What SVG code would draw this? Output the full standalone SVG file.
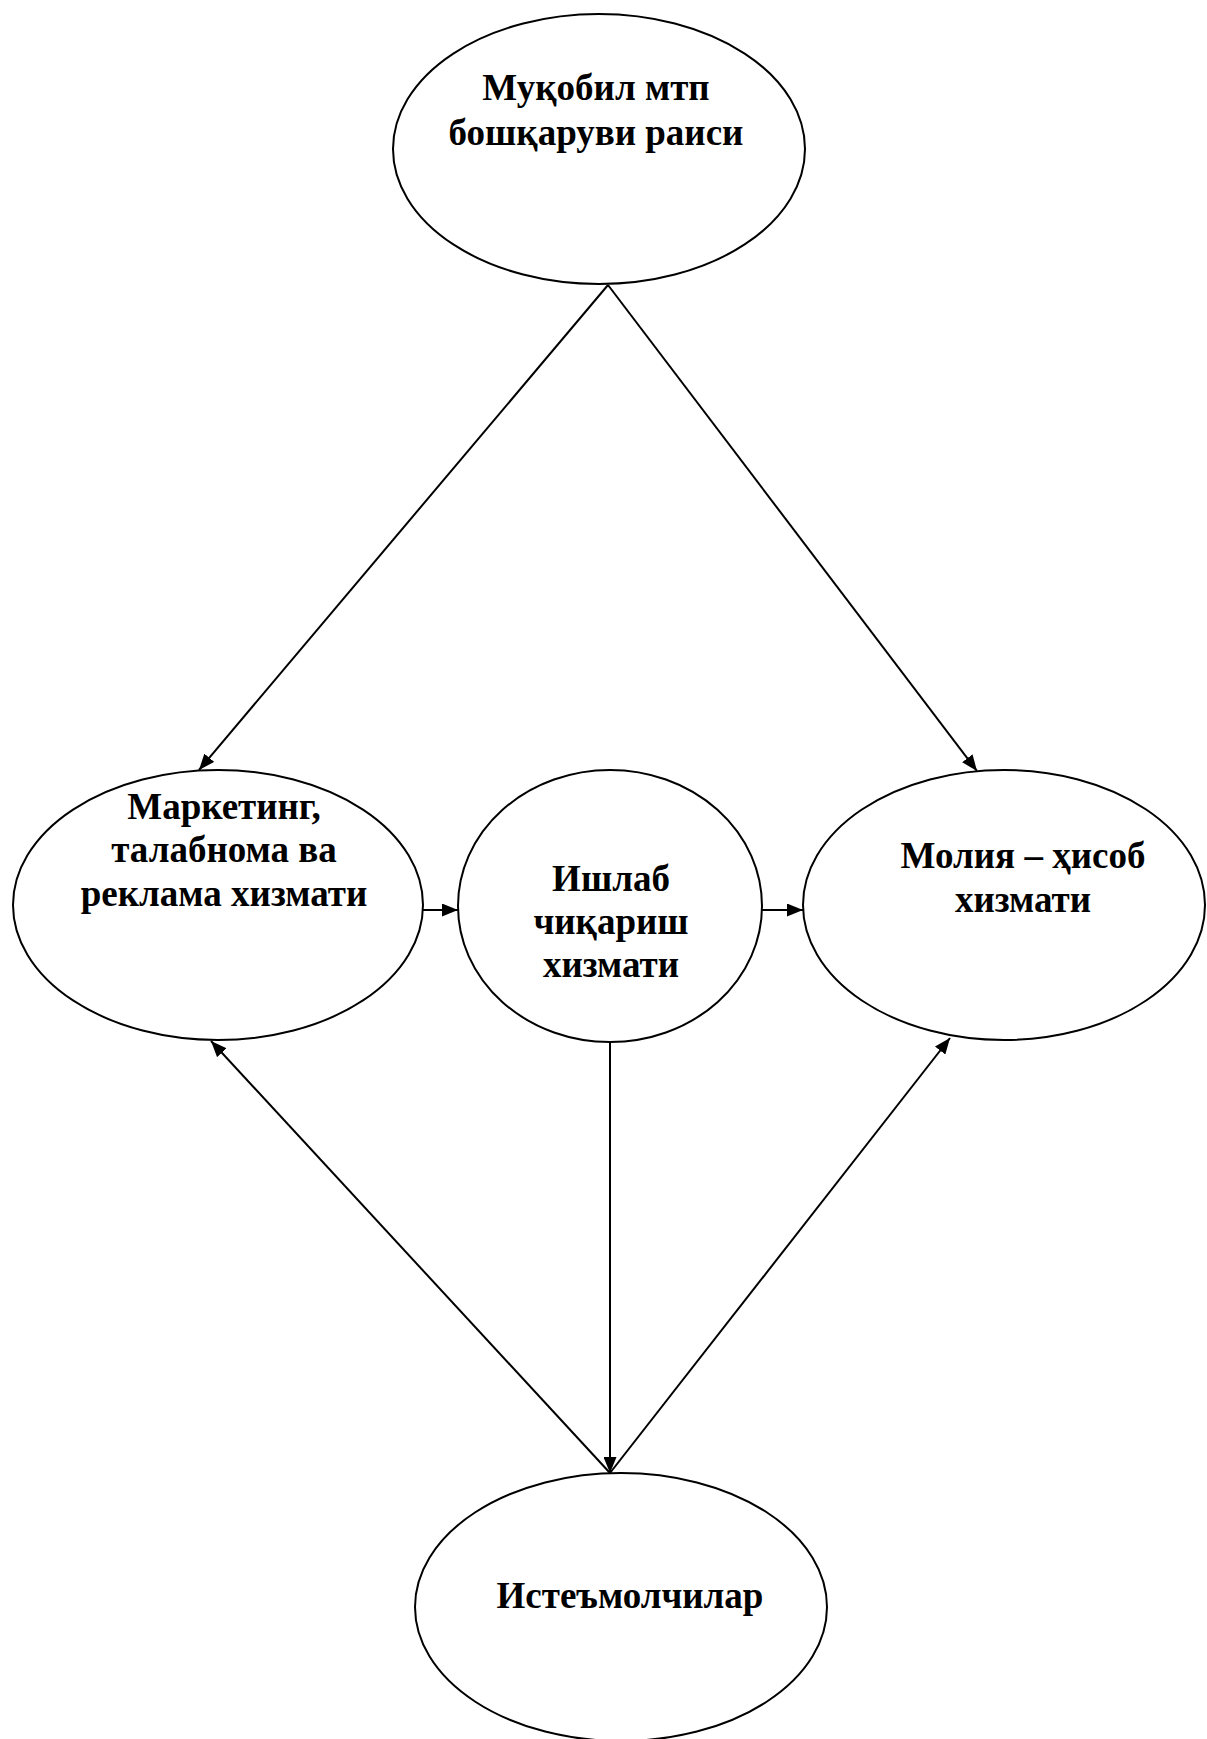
<svg xmlns="http://www.w3.org/2000/svg" width="1207" height="1739" viewBox="0 0 1207 1739">
<style>
.node ellipse{fill:#fff;stroke:#000;stroke-width:2}
.node text{font-family:"Liberation Serif","Times New Roman",serif;font-weight:bold;font-size:37px;fill:#000;text-anchor:middle}
.conn line{stroke:#000;stroke-width:2;fill:none}
</style>
<defs>
<marker id="ah" markerUnits="userSpaceOnUse" markerWidth="16" markerHeight="13" refX="16" refY="6.5" orient="auto">
<path d="M0,0 L16,6.5 L0,13 Z" fill="#000"/>
</marker>
</defs>
<rect width="1207" height="1739" fill="#fff"/>
<g id="n-top" class="node">
<ellipse cx="599" cy="149" rx="206" ry="135"/>
<text x="596" y="100">Муқобил мтп</text>
<text x="596" y="145">бошқаруви раиси</text>
</g>
<g id="n-marketing" class="node">
<ellipse cx="218" cy="905" rx="205" ry="135"/>
<text x="224" y="819">Маркетинг,</text>
<text x="224" y="862">талабнома ва</text>
<text x="224" y="906">реклама хизмати</text>
</g>
<g id="n-production" class="node">
<ellipse cx="610" cy="906" rx="152" ry="136"/>
<text x="611" y="891">Ишлаб</text>
<text x="611" y="934">чиқариш</text>
<text x="611" y="977">хизмати</text>
</g>
<g id="n-finance" class="node">
<ellipse cx="1004" cy="905" rx="201" ry="135"/>
<text x="1023" y="868">Молия – ҳисоб</text>
<text x="1023" y="912">хизмати</text>
</g>
<g id="n-consumers" class="node">
<ellipse cx="621" cy="1607" rx="206" ry="134"/>
<text x="630" y="1608">Истеъмолчилар</text>
</g>
<g id="connectors" class="conn">
<line x1="608" y1="285" x2="199" y2="770" marker-end="url(#ah)"/>
<line x1="608" y1="285" x2="977" y2="771" marker-end="url(#ah)"/>
<line x1="423" y1="910" x2="458" y2="910" marker-end="url(#ah)"/>
<line x1="762" y1="910" x2="803" y2="910" marker-end="url(#ah)"/>
<line x1="610" y1="1042" x2="610" y2="1473" marker-end="url(#ah)"/>
<line x1="610" y1="1473" x2="211" y2="1041" marker-end="url(#ah)"/>
<line x1="610" y1="1473" x2="950" y2="1038" marker-end="url(#ah)"/>
</g>
</svg>
